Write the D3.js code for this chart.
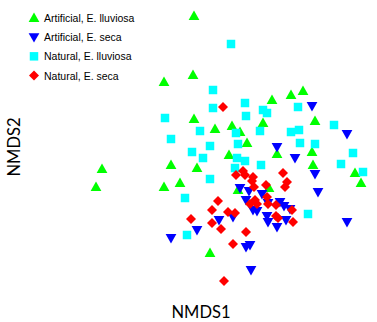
<!DOCTYPE html>
<html><head><meta charset="utf-8">
<script src="https://cdn.jsdelivr.net/npm/d3@7"></script>
<style>body{margin:0;background:#fff}svg{display:block}</style>
</head><body><svg id="c" width="377" height="322"></svg>
<script>
const groups = ["Artificial, E. lluviosa","Artificial, E. seca","Natural, E. lluviosa","Natural, E. seca"];
const colors = ["#00ff00","#0000ff","#00ffff","#ff0000"];
const artLluviosa = [[-0.46,1.54],[-0.47,0.95],[-0.76,0.88],[0.32,0.70],[0.51,0.75],[0.63,0.79],[-0.46,0.51],[-0.25,0.41],[-0.08,0.44],[0.00,0.38],[0.07,0.27],[0.23,0.47],[0.75,0.49],[-0.11,0.15],[0.37,0.16],[0.72,0.18],[0.73,0.05],[1.15,-0.03],[1.21,-0.13],[-1.38,0.01],[-1.44,-0.17],[-0.69,0.05],[-0.43,0.02],[-0.60,-0.13],[-0.76,-0.17],[-0.02,-0.20],[0.29,-0.18],[-0.30,-0.83]];
const artSeca = [[0.72,0.64],[1.07,0.36],[0.37,0.23],[0.55,0.12],[0.75,-0.04],[0.78,-0.22],[1.07,-0.52],[0.00,-0.18],[0.09,-0.21],[0.22,-0.24],[0.06,-0.30],[0.13,-0.40],[0.17,-0.41],[0.28,-0.33],[0.40,-0.32],[0.44,-0.36],[0.50,-0.39],[0.27,-0.46],[0.28,-0.52],[0.46,-0.50],[0.37,-0.57],[-0.07,-0.47],[-0.21,-0.50],[-0.43,-0.60],[-0.69,-0.68],[0.06,-0.77],[0.10,-0.75],[0.11,-1.00]];
const natLluviosa = [[-0.09,1.26],[-0.27,0.80],[-0.27,0.62],[0.05,0.67],[0.06,0.54],[0.23,0.60],[0.27,0.57],[0.58,0.63],[-0.75,0.52],[-0.40,0.39],[-0.04,0.37],[0.20,0.39],[0.51,0.38],[0.59,0.40],[0.94,0.45],[-0.69,0.31],[-0.30,0.24],[-0.02,0.26],[0.60,0.27],[0.75,0.26],[1.13,0.17],[-0.48,0.18],[-0.37,0.12],[-0.03,0.12],[0.05,0.09],[0.21,0.05],[-0.05,0.02],[1.01,0.06],[1.23,-0.02],[-0.30,-0.09],[-0.55,-0.28],[0.68,-0.44],[-0.53,-0.65]];
const natSeca = [[-0.17,0.63],[-0.04,-0.05],[0.03,-0.01],[0.05,-0.05],[0.13,-0.07],[0.12,-0.11],[0.14,-0.17],[0.26,-0.15],[0.43,-0.03],[0.47,-0.12],[0.45,-0.17],[0.15,-0.30],[0.17,-0.34],[0.10,-0.34],[0.27,-0.27],[0.28,-0.34],[0.36,-0.35],[0.52,-0.40],[0.36,-0.46],[0.38,-0.48],[-0.22,-0.31],[-0.28,-0.40],[-0.12,-0.42],[-0.05,-0.43],[-0.49,-0.49],[-0.28,-0.53],[-0.19,-0.59],[0.06,-0.62],[-0.07,-0.74],[-0.16,-1.11],[0.53,-0.52]];
const series = [artLluviosa, artSeca, natLluviosa, natSeca];
const xTitle = "NMDS1", yTitle = "NMDS2";

const svg = d3.select("#c");
const x = d3.scaleLinear().domain([-2.4, 1.37]).range([0, 377]);
const y = d3.scaleLinear().domain([1.70, -1.52]).range([0, 322]);

const tri = d3.symbol().type(d3.symbolTriangle).size(50)();
const sq = d3.symbol().type(d3.symbolSquare).size(72)();
const dia = "M0,-5L5,0L0,5L-5,0Z";
const shapes = [
  {d: tri, rot: 0, dy: 0.8},
  {d: tri, rot: 180, dy: -0.8},
  {d: sq, rot: 0, dy: 0},
  {d: dia, rot: 0, dy: 0}
];

function draw(g, i, px, py) {
  g.append("path").attr("d", shapes[i].d)
    .attr("transform", `translate(${px},${py + shapes[i].dy}) rotate(${shapes[i].rot})`)
    .attr("fill", colors[i]);
}

series.forEach((s, i) => {
  const g = svg.append("g");
  s.forEach(p => draw(g, i, x(p[0]), y(p[1])));
});

// legend
const leg = svg.append("g");
const ly = d3.scaleLinear().domain([0, 3]).range([18, 75.5]);
groups.forEach((name, i) => {
  draw(leg, i, 34, ly(i));
  leg.append("text").attr("x", 44).attr("y", ly(i) + 4)
    .attr("font-family", "Liberation Sans, Arial, sans-serif").attr("font-size", 10.5)
    .attr("fill", "#000").text(name);
});

svg.append("text").attr("x", 201).attr("y", 318).attr("text-anchor", "middle")
  .attr("font-family", "Lato, sans-serif").attr("font-size", 16.5).attr("fill", "#000").text(xTitle);
svg.append("text").attr("transform", "translate(20,147) rotate(-90)").attr("text-anchor", "middle")
  .attr("font-family", "Lato, sans-serif").attr("font-size", 16.5).attr("fill", "#000").text(yTitle);
</script></body></html>
